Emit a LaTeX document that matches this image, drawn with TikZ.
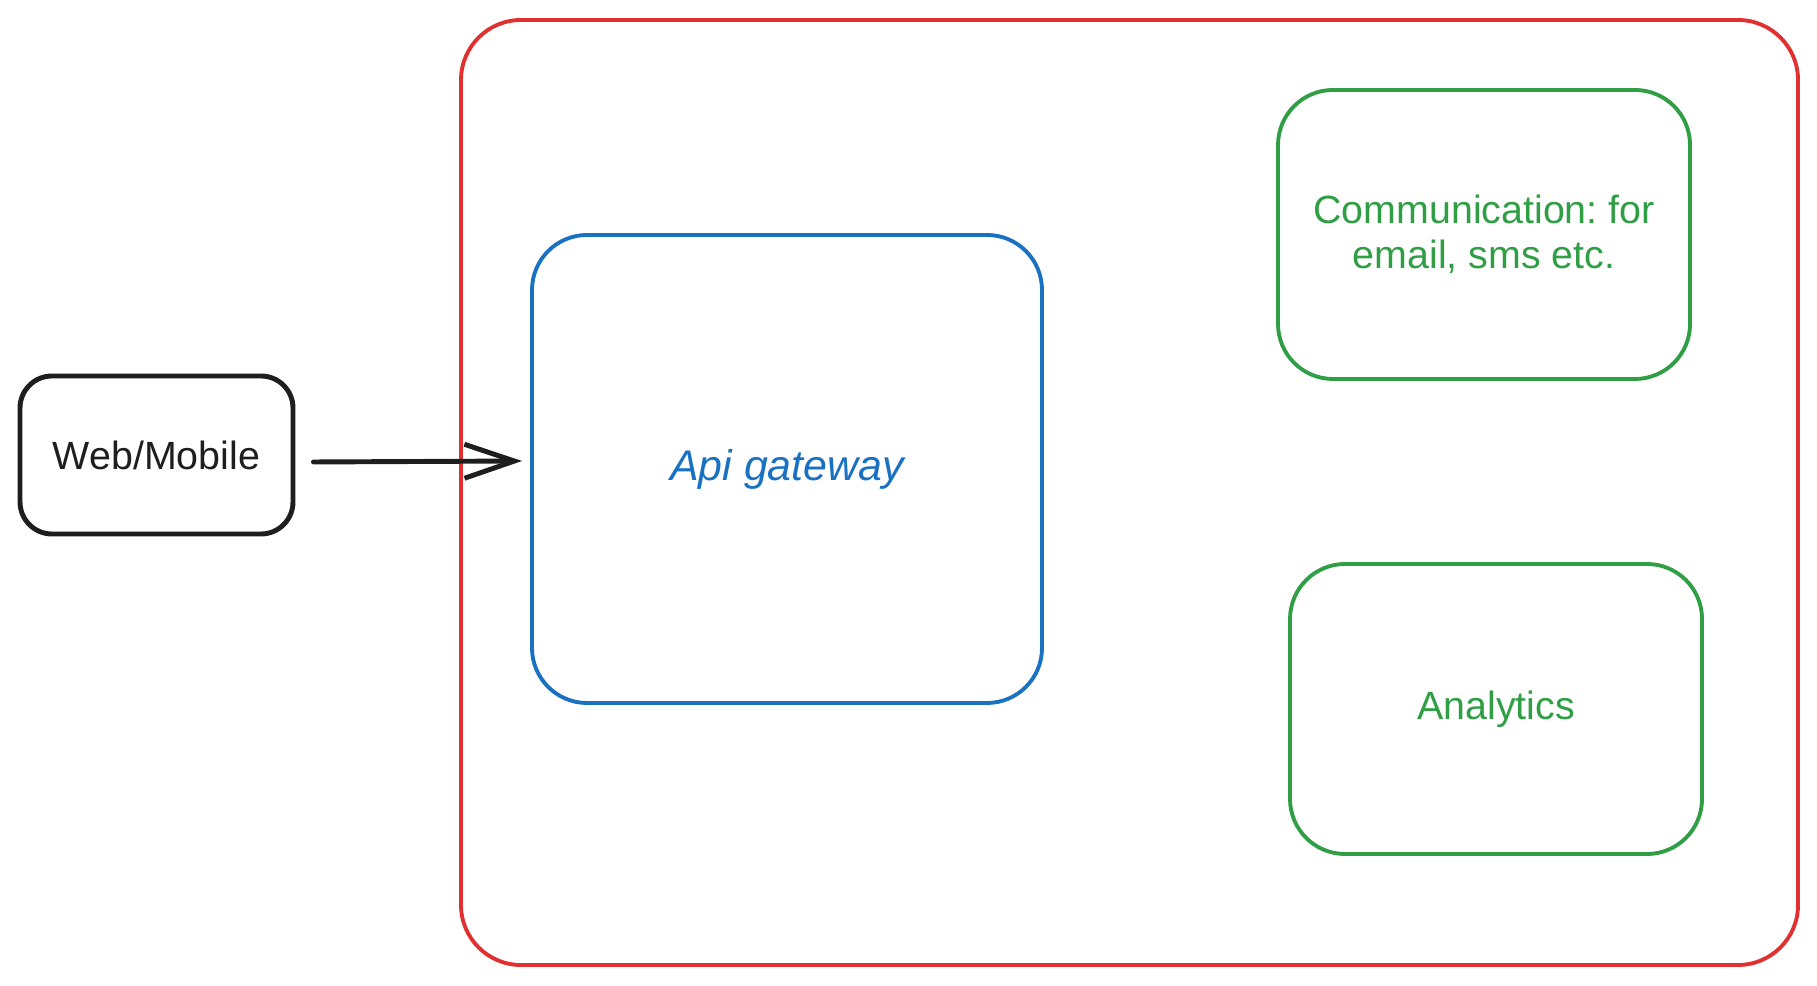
\documentclass[tikz,border=0pt]{standalone}
\usepackage{fontspec}
\setmainfont{Liberation Sans}
\usepackage{tikz}
\usetikzlibrary{arrows.meta}
\usepackage{xcolor}
\definecolor{sysred}{HTML}{E03131}
\definecolor{gwblue}{HTML}{1971C2}
\definecolor{svcgreen}{HTML}{2F9E44}
\definecolor{inkblack}{HTML}{1E1E1E}
\frenchspacing

\begin{document}
\begin{tikzpicture}[
    box/.style={draw, line width=1.1pt, rounded corners=0.55cm, align=center,
        font=\fontsize{11.2}{12.8}\selectfont},
    client/.style={box, draw=inkblack, text=inkblack, line width=1.4pt, rounded corners=0.32cm},
    service/.style={box, draw=svcgreen, text=svcgreen},
    conn/.style={draw=inkblack, line width=1.4pt, line cap=round,
        -{Straight Barb[length=5mm, width=3.4mm, line width=1.4pt]}}
]
    \useasboundingbox (0,0) rectangle (18.17,9.85);

    % System boundary
    \node[box, draw=sysred, minimum width=13.37cm, minimum height=9.45cm,
        rounded corners=0.6cm] (system) at (11.295, 4.925) {};

    % Client
    \node[client, minimum width=2.73cm, minimum height=1.58cm] (web) at (1.565, 5.30) {Web/Mobile};

    % Gateway
    \node[box, draw=gwblue, text=gwblue, minimum width=5.10cm, minimum height=4.68cm,
        font=\fontsize{12.2}{14}\selectfont\itshape] (api) at (7.87, 5.16) {Api gateway};

    % Services
    \node[service, minimum width=4.12cm, minimum height=2.89cm] (comm) at (14.84, 7.505)
        {Communication: for\\email, sms etc.};
    \node[service, minimum width=4.12cm, minimum height=2.90cm] (analytics) at (14.96, 2.76)
        {Analytics};

    % Request path
    \draw[conn] ([shift={(0.18,-0.07)}]web.east) -- ([shift={(-0.08,0.08)}]api.west);
\end{tikzpicture}
\end{document}
